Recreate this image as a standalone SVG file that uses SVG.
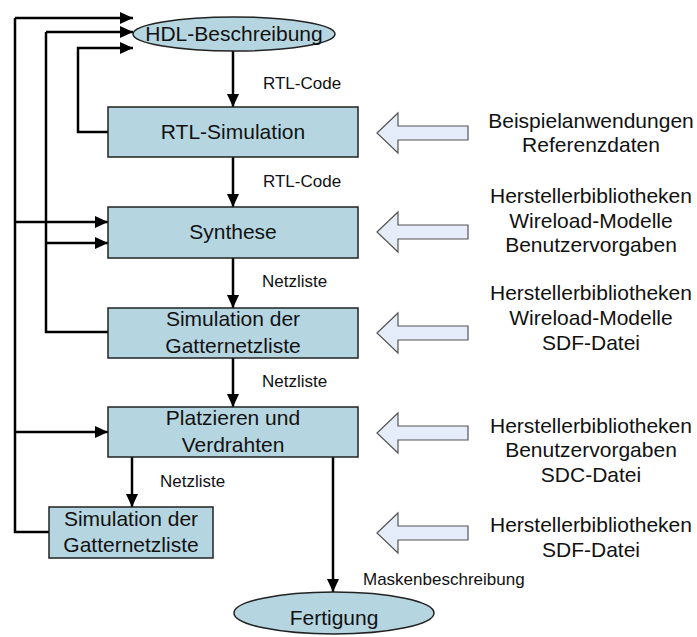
<svg xmlns="http://www.w3.org/2000/svg" width="697" height="637" viewBox="0 0 697 637">
  <style>
    .node { fill: #b5d6e1; stroke: #222; stroke-width: 1.5; }
    .main { font-family: "Liberation Sans", Arial, sans-serif; font-size: 21px; fill: #111; text-anchor: middle; }
    .lbl { font-family: "Liberation Sans", Arial, sans-serif; font-size: 17px; fill: #111; }
    .side { font-family: "Liberation Sans", Arial, sans-serif; font-size: 21px; fill: #111; text-anchor: middle; }
    .wire { fill: none; stroke: #000; stroke-width: 2.5; }
    .wire-arrow { fill: none; stroke: #000; stroke-width: 2.5; marker-end: url(#head); }
    .input { fill: #e4edf9; stroke: #555; stroke-width: 1.2; }
  </style>
  <defs>
    <marker id="head" markerUnits="userSpaceOnUse" markerWidth="14" markerHeight="12" refX="13" refY="6" orient="auto">
      <path d="M0,0 L13,6 L0,12 z" fill="#000"/>
    </marker>
    <path id="block-arrow" d="M0,0 L21,-20 L21,-7 L91,-7 L91,7 L21,7 L21,20 z"/>
  </defs>

  <!-- connectors -->
  <g id="connectors">
    <!-- outer feedback loop from the post-layout simulation -->
    <path class="wire" d="M49,532 H15 V18"/>
    <path class="wire-arrow" d="M15,18 H133"/>
    <path class="wire-arrow" d="M15,222 H108"/>
    <path class="wire-arrow" d="M15,432 H108"/>
    <!-- middle feedback loop from the gate-level simulation -->
    <path class="wire" d="M108,332 H46 V32"/>
    <path class="wire-arrow" d="M46,32 H133"/>
    <path class="wire-arrow" d="M46,243 H108"/>
    <!-- inner feedback loop from the RTL simulation -->
    <path class="wire-arrow" d="M108,132 H78 V48 H133"/>
    <!-- main flow -->
    <path class="wire-arrow" d="M233,51 V107"/>
    <path class="wire-arrow" d="M233,157 V207"/>
    <path class="wire-arrow" d="M233,258 V308"/>
    <path class="wire-arrow" d="M233,358 V407"/>
    <path class="wire-arrow" d="M132,457 V507"/>
    <path class="wire-arrow" d="M333,457 V592"/>
    <text class="lbl" x="263" y="89">RTL-Code</text>
    <text class="lbl" x="263" y="187">RTL-Code</text>
    <text class="lbl" x="262" y="287">Netzliste</text>
    <text class="lbl" x="262" y="387">Netzliste</text>
    <text class="lbl" x="160" y="487">Netzliste</text>
    <text class="lbl" x="363" y="585">Maskenbeschreibung</text>
  </g>

  <!-- nodes -->
  <g id="hdl">
    <ellipse class="node" cx="234" cy="34" rx="101" ry="17"/>
    <text class="main" x="234" y="41">HDL-Beschreibung</text>
  </g>
  <g id="rtl-sim">
    <rect class="node" x="108" y="107" width="250" height="50"/>
    <text class="main" x="233" y="139">RTL-Simulation</text>
  </g>
  <g id="synthese">
    <rect class="node" x="108" y="207" width="250" height="51"/>
    <text class="main" x="233" y="239">Synthese</text>
  </g>
  <g id="gate-sim">
    <rect class="node" x="108" y="308" width="250" height="50"/>
    <text class="main" x="233" y="326">Simulation der</text>
    <text class="main" x="233" y="353">Gatternetzliste</text>
  </g>
  <g id="place-route">
    <rect class="node" x="108" y="407" width="250" height="50"/>
    <text class="main" x="233" y="425">Platzieren und</text>
    <text class="main" x="233" y="452">Verdrahten</text>
  </g>
  <g id="post-layout-sim">
    <rect class="node" x="49" y="507" width="164" height="51"/>
    <text class="main" x="131" y="526">Simulation der</text>
    <text class="main" x="131" y="552">Gatternetzliste</text>
  </g>
  <g id="fertigung">
    <ellipse class="node" cx="334" cy="613" rx="100" ry="21"/>
    <text class="main" x="334" y="625">Fertigung</text>
  </g>

  <!-- inputs to each step -->
  <g id="input-rtl-sim">
    <use href="#block-arrow" class="input" x="377" y="133"/>
    <text class="side" x="591" y="128">Beispielanwendungen</text>
    <text class="side" x="591" y="152">Referenzdaten</text>
  </g>
  <g id="input-synthese">
    <use href="#block-arrow" class="input" x="377" y="232"/>
    <text class="side" x="591" y="203">Herstellerbibliotheken</text>
    <text class="side" x="591" y="228">Wireload-Modelle</text>
    <text class="side" x="591" y="252">Benutzervorgaben</text>
  </g>
  <g id="input-gate-sim">
    <use href="#block-arrow" class="input" x="377" y="333"/>
    <text class="side" x="591" y="300">Herstellerbibliotheken</text>
    <text class="side" x="591" y="325">Wireload-Modelle</text>
    <text class="side" x="591" y="350">SDF-Datei</text>
  </g>
  <g id="input-place-route">
    <use href="#block-arrow" class="input" x="377" y="433"/>
    <text class="side" x="591" y="433">Herstellerbibliotheken</text>
    <text class="side" x="591" y="457">Benutzervorgaben</text>
    <text class="side" x="591" y="482">SDC-Datei</text>
  </g>
  <g id="input-post-layout-sim">
    <use href="#block-arrow" class="input" x="377" y="533"/>
    <text class="side" x="591" y="532">Herstellerbibliotheken</text>
    <text class="side" x="591" y="557">SDF-Datei</text>
  </g>
</svg>
